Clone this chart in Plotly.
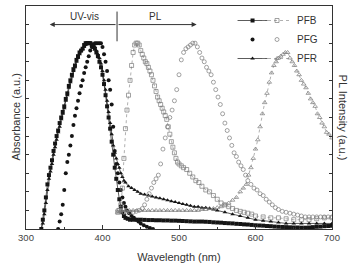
import plotly.graph_objects as go

# ---------------- data (normalized) ----------------
pfb_abs_w = [320,322,324,326,328,330,332,334,336,338,340,342,344,346,348,350,352,354,356,358,
             360,362,364,366,368,370,372,374,376,378,380,382,384,386,388,390,392,394,396,398,
             400,402,404,406,408,410,412,414,416,418,420,422,424,426,428,430,433,436,440,445,
             450,455,460,465,470,475,480,485,490,495,500,505,510,515,520,525,530,535,540,545,
             550,555,560,565,570,575,580,585,590,595,600,605,610,615,620,625,630,635,640,645,
             650,655,660,665,670,675,680,685,690,695,700]
pfb_abs_v = [0.00,0.05,0.10,0.17,0.24,0.29,0.33,0.37,0.42,0.46,0.50,0.53,0.57,0.60,0.63,0.66,0.70,0.73,0.77,0.80,
             0.83,0.86,0.88,0.91,0.93,0.95,0.96,0.97,0.99,1.00,1.00,1.00,1.00,0.99,0.98,0.97,0.95,0.93,0.90,0.87,
             0.83,0.78,0.72,0.66,0.60,0.54,0.47,0.40,0.33,0.27,0.21,0.16,0.12,0.09,0.07,0.06,0.055,0.05,0.05,0.05,
             0.05,0.049,0.048,0.048,0.047,0.047,0.046,0.046,0.045,0.045,0.044,0.043,0.042,0.041,0.040,0.040,0.040,0.039,0.038,0.036,
             0.035,0.034,0.032,0.031,0.030,0.028,0.027,0.025,0.024,0.022,0.020,0.019,0.018,0.016,0.015,0.013,0.012,0.011,0.010,0.009,
             0.008,0.008,0.007,0.007,0.008,0.010,0.012,0.013,0.015,0.016,0.018]

pfg_abs_w = [342,344,346,348,350,352,354,356,358,360,362,364,366,368,370,372,374,376,378,380,
             382,384,386,388,390,392,394,396,398,400,402,404,406,408,410,412,414,416,418,420,
             422,424,426,428,430,432,435,438,441,444,447,450,454,458,462,466]
pfg_abs_v = [0.00,0.04,0.08,0.13,0.21,0.30,0.36,0.40,0.45,0.50,0.56,0.61,0.65,0.69,0.73,0.77,0.80,0.84,0.87,0.90,
             0.93,0.96,0.98,0.99,1.00,1.00,1.00,1.00,1.00,0.98,0.94,0.90,0.85,0.80,0.75,0.67,0.55,0.42,0.35,0.30,
             0.25,0.21,0.17,0.14,0.12,0.10,0.085,0.07,0.06,0.05,0.04,0.03,0.02,0.012,0.005,0.00]

pfr_abs_w = [320,322,324,326,328,330,332,334,336,338,340,342,344,346,348,350,352,354,356,358,
             360,362,364,366,368,370,372,374,376,378,380,382,384,386,388,390,392,394,396,398,
             400,402,404,406,408,410,412,414,416,418,420,422,424,426,428,430,434,438,442,446,
             450,455,460,465,470,475,480,485,490,495,500,505,510,515,520,525,530,535,540,545,
             550,560,570,580,590,600,610,620,630,640,650,660,670,680,690,700]
pfr_abs_v = [0.00,0.03,0.08,0.14,0.21,0.27,0.31,0.35,0.40,0.44,0.48,0.52,0.55,0.59,0.62,0.65,0.69,0.72,0.76,0.79,
             0.82,0.85,0.87,0.90,0.92,0.94,0.96,0.97,0.98,0.99,1.00,1.00,1.00,1.00,0.99,0.98,0.96,0.94,0.92,0.89,
             0.85,0.80,0.75,0.69,0.63,0.57,0.51,0.45,0.41,0.38,0.35,0.33,0.30,0.28,0.26,0.25,0.23,0.22,0.21,0.20,
             0.19,0.185,0.18,0.175,0.17,0.165,0.16,0.155,0.15,0.145,0.14,0.135,0.13,0.125,0.12,0.12,0.115,0.115,0.11,0.105,
             0.10,0.09,0.08,0.07,0.06,0.05,0.045,0.04,0.035,0.03,0.03,0.03,0.03,0.03,0.03,0.03]

pfb_pl_w = [420,422,424,426,428,430,432,434,436,438,440,442,444,446,448,450,452,454,456,458,
            460,462,464,466,468,470,472,474,476,478,480,482,484,486,488,490,492,494,496,498,
            500,503,506,510,514,518,522,526,530,535,540,545,550,555,560,565,570,575,580,585,
            590,595,600,610,620,630,640,650,660,670,680,690,700]
pfb_pl_v = [0.09,0.10,0.13,0.22,0.38,0.54,0.64,0.72,0.80,0.88,0.95,0.99,1.00,1.00,0.99,0.96,0.94,0.92,0.90,0.89,
            0.87,0.85,0.83,0.80,0.77,0.74,0.71,0.69,0.67,0.65,0.63,0.61,0.59,0.55,0.51,0.47,0.44,0.41,0.38,0.36,
            0.35,0.34,0.33,0.32,0.30,0.28,0.26,0.25,0.23,0.21,0.20,0.18,0.16,0.14,0.13,0.12,0.11,0.10,0.095,0.09,
            0.085,0.08,0.07,0.065,0.06,0.06,0.055,0.05,0.05,0.05,0.055,0.06,0.06]

pfg_pl_w = [420,424,428,432,436,440,444,448,452,455,458,461,464,467,470,473,476,479,482,485,
            488,491,494,497,500,503,506,509,512,515,518,521,524,527,530,533,536,539,542,545,
            548,551,554,557,560,563,566,569,572,575,578,581,584,587,590,594,598,602,606,610,
            614,618,622,626,630,635,640,645,650,655,660,665,670,675,680,685,690,695,700]
pfg_pl_v = [0.10,0.095,0.09,0.09,0.09,0.09,0.095,0.10,0.11,0.13,0.16,0.19,0.22,0.25,0.27,0.29,0.35,0.43,0.49,0.55,
            0.60,0.64,0.69,0.75,0.83,0.91,0.95,0.97,0.98,0.99,1.00,1.00,0.98,0.95,0.92,0.90,0.87,0.85,0.83,0.79,
            0.75,0.71,0.67,0.62,0.57,0.53,0.49,0.45,0.41,0.39,0.36,0.34,0.32,0.29,0.26,0.24,0.22,0.21,0.19,0.18,
            0.16,0.145,0.13,0.115,0.105,0.095,0.09,0.085,0.08,0.075,0.07,0.065,0.065,0.065,0.065,0.065,0.065,0.065,0.065]

pfr_pl_w = [420,425,430,435,440,445,450,455,460,465,470,475,480,485,490,495,500,505,510,515,
            520,525,530,535,540,545,550,555,560,565,570,575,580,584,588,591,594,597,600,603,
            606,609,612,615,618,621,624,627,630,633,636,639,642,645,648,651,654,657,660,663,
            666,669,672,675,678,681,684,687,690,693,696,700]
pfr_pl_v = [0.09,0.10,0.10,0.10,0.10,0.10,0.10,0.10,0.10,0.10,0.10,0.10,0.10,0.10,0.10,0.10,0.10,0.10,0.10,0.10,
            0.10,0.10,0.105,0.105,0.11,0.11,0.115,0.12,0.13,0.14,0.155,0.17,0.20,0.22,0.24,0.29,0.33,0.38,0.43,0.48,
            0.55,0.62,0.68,0.73,0.79,0.84,0.88,0.90,0.92,0.93,0.94,0.95,0.95,0.92,0.90,0.88,0.85,0.83,0.80,0.78,
            0.76,0.73,0.70,0.68,0.66,0.62,0.60,0.57,0.55,0.52,0.51,0.49]

names = ["PFB", "PFG", "PFR"]
x_ticks = [300, 400, 500, 600, 700]

# ---------------- figure ----------------
FONT = "Liberation Sans, Arial, sans-serif"
DARK = "#151515"
GRAY = "#7a7a7a"

fig = go.Figure()

abs_sets = [(pfb_abs_w, pfb_abs_v, "square", "lines+markers"),
            (pfg_abs_w, pfg_abs_v, "circle", "markers"),
            (pfr_abs_w, pfr_abs_v, "triangle-up", "lines+markers")]
pl_sets = [(pfb_pl_w, pfb_pl_v, "square-open", "lines+markers"),
           (pfg_pl_w, pfg_pl_v, "circle-open", "markers"),
           (pfr_pl_w, pfr_pl_v, "triangle-up-open", "lines+markers")]

for (w, v, sym, mode), nm in zip(abs_sets, names):
    fig.add_trace(go.Scatter(x=w, y=v, mode=mode, name=" ", legend="legend",
                             line=dict(color=DARK, width=0.7),
                             marker=dict(symbol=sym, size=4, color=DARK, line=dict(width=0))))
for (w, v, sym, mode), nm in zip(pl_sets, names):
    fig.add_trace(go.Scatter(x=w, y=v, mode=mode, name=nm, legend="legend2",
                             line=dict(color=GRAY, width=0.6, dash="dot"),
                             marker=dict(symbol=sym, size=4, color=GRAY, line=dict(width=0.7, color=GRAY))))

# UV-vis / PL arrow annotation
fig.add_shape(type="line", x0=419, x1=419, y0=1.01, y1=1.17, xref="x", yref="y",
              line=dict(color="#333", width=1))
fig.add_annotation(x=331, y=1.10, ax=419, ay=1.10, xref="x", yref="y", axref="x", ayref="y",
                   showarrow=True, arrowhead=2, arrowsize=1, arrowwidth=1, arrowcolor="#333", text="")
fig.add_annotation(x=523, y=1.10, ax=419, ay=1.10, xref="x", yref="y", axref="x", ayref="y",
                   showarrow=True, arrowhead=2, arrowsize=1, arrowwidth=1, arrowcolor="#333", text="")
fig.add_annotation(x=377, y=1.145, xref="x", yref="y", text="UV-vis", showarrow=False,
                   font=dict(family=FONT, size=10, color="#333"))
fig.add_annotation(x=469, y=1.145, xref="x", yref="y", text="PL", showarrow=False,
                   font=dict(family=FONT, size=10, color="#333"))

# y axis titles
fig.add_annotation(x=-0.062, y=0.5, xref="paper", yref="paper", text="Absorbance (a.u.)",
                   textangle=-90, showarrow=False, font=dict(family=FONT, size=11, color="#333"))
fig.add_annotation(x=1.065, y=0.5, xref="paper", yref="paper", text="PL Intensity (a.u.)",
                   textangle=90, showarrow=False, font=dict(family=FONT, size=11, color="#333"))

fig.update_layout(
    width=357, height=265,
    margin=dict(l=26, r=25, t=6, b=36, autoexpand=False),
    paper_bgcolor="white", plot_bgcolor="white",
    font=dict(family=FONT, size=10, color="#333"),
    showlegend=True,
    legend=dict(x=0.675, y=1.0, xanchor="left", yanchor="top", bgcolor="rgba(0,0,0,0)",
                font=dict(size=7), itemwidth=30, tracegroupgap=0, traceorder="normal"),
    legend2=dict(x=0.755, y=1.0, xanchor="left", yanchor="top", bgcolor="rgba(0,0,0,0)",
                 font=dict(size=10, color="#333"), itemwidth=30, tracegroupgap=0, traceorder="normal"),
    xaxis=dict(range=[300, 700], tickvals=x_ticks, ticktext=[str(t) for t in x_ticks],
               ticks="inside", ticklen=4, tickcolor="#333", automargin=False,
               minor=dict(ticks="inside", ticklen=2, dtick=50, tickcolor="#333"),
               showline=True, linecolor="#333", linewidth=1, mirror=True,
               showgrid=False, zeroline=False,
               title=dict(text="Wavelength (nm)", font=dict(size=11), standoff=10),
               tickfont=dict(size=9.5, color="#444")),
    yaxis=dict(range=[0, 1.2], dtick=0.1, tick0=0, ticks="inside", ticklen=3, tickcolor="#333",
               automargin=False,
               showticklabels=False, showline=True, linecolor="#333", linewidth=1, mirror="ticks",
               showgrid=False, zeroline=False),
)

fig.write_html("out.html")
